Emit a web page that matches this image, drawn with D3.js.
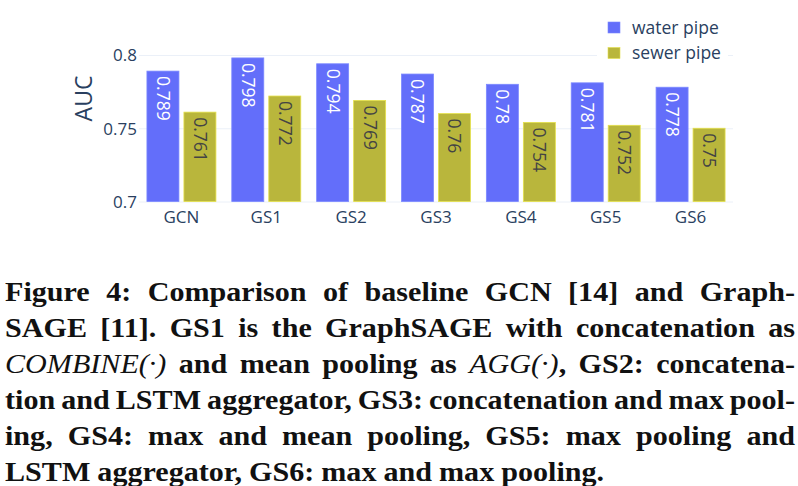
<!DOCTYPE html>
<html><head><meta charset="utf-8">
<script src="https://cdn.jsdelivr.net/npm/d3@7/dist/d3.min.js"></script>
<style>html,body{margin:0;padding:0;background:#fff;}svg{display:block;}</style>
</head><body>
<svg id="c" width="798" height="486"></svg>
<script>
const categories = ["GCN","GS1","GS2","GS3","GS4","GS5","GS6"];
const seriesNames = ["water pipe","sewer pipe"];
const waterValues = [0.789,0.798,0.794,0.787,0.78,0.781,0.778];
const sewerValues = [0.761,0.772,0.769,0.76,0.754,0.752,0.75];
const yTicks = [0.7,0.75,0.8];
const yTickLabels = ["0.7","0.75","0.8"];
const yTitle = "AUC";
const seriesColors = ["#636efa","#b9b63c"];
const textColors = ["#ffffff","#444444"];
const captionLines = [
  [[["Figure","b"]],[["4:","b"]],[["Comparison","b"]],[["of","b"]],[["baseline","b"]],[["GCN","b"]],[["[14]","b"]],[["and","b"]],[["Graph-","b"]]],
  [[["SAGE","b"]],[["[11].","b"]],[["GS1","b"]],[["is","b"]],[["the","b"]],[["GraphSAGE","b"]],[["with","b"]],[["concatenation","b"]],[["as","b"]]],
  [[["COMBINE(\u00b7)","i"]],[["and","b"]],[["mean","b"]],[["pooling","b"]],[["as","b"]],[["AGG(\u00b7)","i"],[",","b"]],[["GS2:","b"]],[["concatena-","b"]]],
  [[["tion","b"]],[["and","b"]],[["LSTM","b"]],[["aggregator,","b"]],[["GS3:","b"]],[["concatenation","b"]],[["and","b"]],[["max","b"]],[["pool-","b"]]],
  [[["ing,","b"]],[["GS4:","b"]],[["max","b"]],[["and","b"]],[["mean","b"]],[["pooling,","b"]],[["GS5:","b"]],[["max","b"]],[["pooling","b"]],[["and","b"]]],
  [[["LSTM","b"]],[["aggregator,","b"]],[["GS6:","b"]],[["max","b"]],[["and","b"]],[["max","b"]],[["pooling.","b"]]]
];

const svg = d3.select("#c");
const fontSans = "'Open Sans', 'Noto Sans', sans-serif";
const axisColor = "#2a3f5f";

const x = d3.scaleBand().domain(categories).range([139, 733]).padding(0);
const bw = x.bandwidth();
const xSub = d3.scaleBand().domain(seriesNames).range([bw*0.0935, bw*0.9065]).paddingInner(0.135);
const y = d3.scaleLinear().domain([0.7, 0.8]).range([201.5, 55]);

// gridlines
const yAxis = d3.axisLeft(y).tickValues(yTicks).tickFormat((d,i)=>yTickLabels[i]).tickSize(-(733-139)).tickPadding(6);
const gy = svg.append("g").attr("transform","translate(139,0)").call(yAxis);
gy.select(".domain").remove();
gy.selectAll(".tick line").attr("stroke","#ebf0f8").attr("stroke-width",1);
gy.selectAll(".tick text").attr("font-family",fontSans).attr("font-size",17).attr("fill",axisColor).attr("dy","0.35em").attr("x",-2);

// bars
const data = categories.map((c,i)=>({cat:c, vals:[waterValues[i], sewerValues[i]]}));
const groups = svg.append("g").selectAll("g").data(data).join("g")
  .attr("transform",d=>`translate(${x(d.cat)},0)`);
groups.selectAll("rect").data(d=>d.vals.map((v,j)=>({v,j}))).join("rect")
  .attr("x",d=>xSub(seriesNames[d.j]))
  .attr("width",xSub.bandwidth())
  .attr("y",d=>y(d.v))
  .attr("height",d=>y(0.7)-y(d.v))
  .attr("fill",d=>seriesColors[d.j])
  .attr("stroke",d=>d3.color(seriesColors[d.j]).brighter(0.6))
  .attr("stroke-width",0.8);
groups.selectAll("text").data(d=>d.vals.map((v,j)=>({v,j}))).join("text")
  .attr("transform",d=>`translate(${xSub(seriesNames[d.j])+xSub.bandwidth()/2},${y(d.v)+5}) rotate(90)`)
  .attr("dy","0.35em")
  .attr("text-anchor","start")
  .attr("font-family",fontSans).attr("font-size",17.5)
  .attr("fill",d=>textColors[d.j])
  .text(d=>String(d.v));

// x axis labels
const xAxis = d3.axisBottom(x).tickSize(0).tickPadding(9);
const gx = svg.append("g").attr("transform","translate(0,201.5)").call(xAxis);
gx.select(".domain").remove();
gx.selectAll(".tick text").attr("font-family",fontSans).attr("font-size",17).attr("fill",axisColor);

// y title
svg.append("text").attr("transform","translate(84,98.5) rotate(-90)")
  .attr("text-anchor","middle").attr("dy","0.35em")
  .attr("font-family",fontSans).attr("font-size",23).attr("fill",axisColor).text(yTitle);

// legend
const lg = svg.append("g");
lg.append("rect").attr("x",597).attr("y",12).attr("width",131).attr("height",54).attr("fill","#fff");
seriesNames.forEach((n,i)=>{
  const cy = 27.5 + i*25.5;
  lg.append("rect").attr("x",608).attr("y",cy-5.5).attr("width",12).attr("height",11)
    .attr("fill",seriesColors[i]).attr("stroke",d3.color(seriesColors[i]).brighter(0.6)).attr("stroke-width",0.6);
  lg.append("text").attr("x",632).attr("y",cy).attr("dy","0.35em")
    .attr("font-family",fontSans).attr("font-size",17.5).attr("fill",axisColor).text(n);
});

// caption (justified, horizontally stretched to match the reference's wide serif)
const capFont = "'Liberation Serif', 'Times New Roman', serif";
const capLeft = 5, capRight = 795, capW = capRight - capLeft;
const built = captionLines.map((line, li)=>{
  const baseY = 300.7 + li*36;
  return line.map(word=>{
    const t = svg.append("text").attr("y",baseY).attr("font-family",capFont).attr("font-size",26.5).attr("fill","#111");
    word.forEach(([s,st])=>{
      t.append("tspan").text(s)
        .attr("font-weight", st==="b" ? "bold" : "normal")
        .attr("font-style", st==="i" ? "italic" : "normal");
    });
    return {t, w: t.node().getComputedTextLength()};
  });
});
// stretch factor from the tightest line (line 4) with a small gap
const tightTotal = d3.sum(built[3], d=>d.w);
const stretch = (capW - 6*(built[3].length-1))/tightTotal;
built.forEach((words, li)=>{
  const total = d3.sum(words, d=>d.w)*stretch;
  const last = li === built.length-1;
  let gap = last ? 7 : (capW - total)/(words.length-1);
  let cx = capLeft;
  words.forEach(d=>{
    d.t.attr("x",0).attr("transform",`translate(${cx},0) scale(${stretch},1)`);
    cx += d.w*stretch + gap;
  });
});
</script>
</body></html>
